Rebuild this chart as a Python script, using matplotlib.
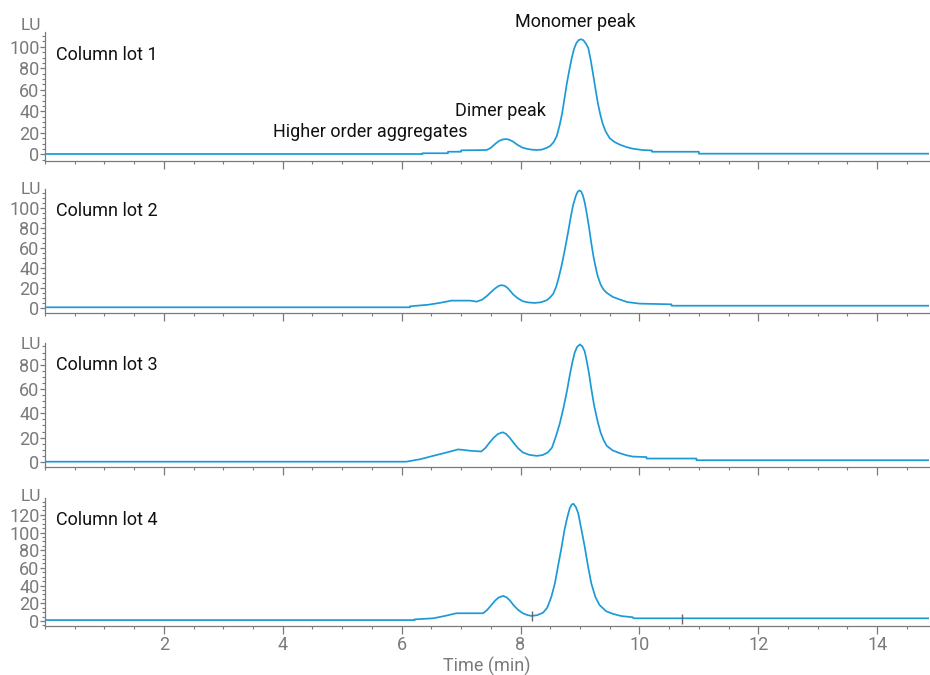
import matplotlib
matplotlib.use("Agg")
from matplotlib import pyplot as plt
from matplotlib.ticker import MultipleLocator

plt.rcParams['font.family'] = ['Roboto', 'DejaVu Sans']

# chromatogram traces (time in min, signal in LU)
t1 = [0.0, 6.35, 6.35, 6.78, 6.78, 7.0, 7.0, 7.43, 7.5, 7.57, 7.64, 7.7, 7.75, 7.8, 7.87,
      7.95, 8.03, 8.1, 8.18, 8.27, 8.36, 8.44, 8.5, 8.56, 8.61, 8.66, 8.7, 8.74, 8.78, 8.82,
      8.86, 8.9, 8.94, 8.98, 9.02, 9.06, 9.1, 9.14, 9.18, 9.22, 9.26, 9.3, 9.34, 9.38, 9.43,
      9.5, 9.58, 9.67, 9.78, 9.89, 10.05, 10.21, 10.21, 11.0, 11.0, 14.88]
y1 = [0.3, 0.3, 1.0, 1.0, 2.4, 2.4, 3.7, 4.0, 6.0, 9.5, 12.5, 13.8, 14.2, 13.8, 12.0,
      8.8, 6.3, 5.2, 4.4, 4.0, 4.4, 6.0, 7.8, 11.5, 17.0, 27.5, 38.0, 52.0, 66.0, 78.0,
      89.0, 98.0, 103.5, 106.3, 107.0, 106.0, 103.0, 98.8, 88.0, 75.0, 61.0, 48.0, 37.5, 29.0, 21.5,
      15.0, 11.5, 9.0, 6.8, 5.2, 4.0, 3.6, 2.4, 2.4, 0.6, 0.6]

t2 = [0.0, 6.14, 6.14, 6.45, 6.64, 6.84, 7.15, 7.26, 7.35, 7.43, 7.5, 7.57, 7.63, 7.68, 7.73,
      7.78, 7.83, 7.88, 7.95, 8.04, 8.14, 8.24, 8.34, 8.44, 8.5, 8.55, 8.6, 8.64, 8.69, 8.74,
      8.8, 8.85, 8.89, 8.93, 8.96, 8.99, 9.02, 9.05, 9.08, 9.11, 9.15, 9.19, 9.23, 9.27, 9.3,
      9.35, 9.4, 9.45, 9.55, 9.67, 9.8, 10.0, 10.54, 10.54, 14.88]
y2 = [1.0, 1.0, 2.0, 3.6, 5.4, 7.7, 7.7, 6.7, 8.5, 12.1, 16.0, 19.8, 22.3, 23.2, 22.6,
      20.5, 17.2, 13.7, 10.2, 7.0, 5.8, 5.4, 6.0, 8.0, 11.0, 14.5, 21.5, 30.0, 42.4, 57.0,
      76.0, 93.0, 104.5, 112.5, 116.5, 118.0, 117.0, 113.0, 106.0, 96.5, 82.0, 65.7, 51.0, 39.5, 32.0,
      23.5, 18.5, 15.5, 11.5, 8.8, 6.2, 4.7, 4.0, 2.6, 2.6]

t3 = [0.0, 6.08, 6.31, 6.53, 6.76, 6.95, 7.05, 7.15, 7.34, 7.41, 7.48, 7.55, 7.62, 7.7, 7.76,
      7.82, 7.88, 7.96, 8.04, 8.15, 8.27, 8.37, 8.46, 8.53, 8.6, 8.66, 8.72, 8.78, 8.83, 8.87,
      8.91, 8.95, 9.0, 9.04, 9.08, 9.11, 9.15, 9.19, 9.24, 9.3, 9.35, 9.4, 9.45, 9.55, 9.67,
      9.78, 9.89, 10.12, 10.12, 10.96, 10.96, 14.88]
y3 = [0.2, 0.2, 2.2, 5.0, 7.8, 10.3, 9.8, 9.2, 8.6, 11.5, 16.0, 20.0, 23.0, 24.4, 23.0,
      19.8, 16.0, 11.2, 7.8, 5.8, 5.0, 5.6, 7.8, 11.8, 21.7, 31.5, 43.9, 58.0, 71.7, 81.5,
      89.7, 94.5, 96.7, 95.0, 91.0, 84.0, 73.5, 60.5, 46.0, 32.8, 23.8, 17.8, 13.3, 9.5, 7.2,
      5.5, 4.4, 4.0, 2.8, 2.8, 1.4, 1.4]

t4 = [0.0, 6.22, 6.22, 6.53, 6.73, 6.92, 7.37, 7.44, 7.51, 7.57, 7.63, 7.71, 7.77, 7.83, 7.88,
      7.96, 8.04, 8.11, 8.18, 8.28, 8.38, 8.45, 8.52, 8.58, 8.63, 8.69, 8.74, 8.79, 8.83, 8.86,
      8.89, 8.93, 8.97, 9.02, 9.08, 9.13, 9.19, 9.26, 9.33, 9.44, 9.56, 9.7, 9.89, 9.9, 14.88]
y4 = [1.0, 1.0, 1.8, 3.0, 5.7, 8.7, 8.7, 12.5, 18.0, 22.8, 26.5, 28.3, 26.5, 22.5, 18.0,
      12.5, 8.7, 6.8, 5.7, 6.5, 9.4, 15.0, 27.5, 43.0, 61.5, 83.0, 103.0, 118.0, 127.7, 131.5,
      132.5, 129.0, 122.0, 105.0, 84.0, 64.0, 42.7, 27.0, 18.0, 11.0, 7.9, 5.5, 4.2, 3.0, 3.0]

# integration event marks on lot 4 trace
mark_t4 = [8.2, 10.72]
mark_y4 = [5.7, 1.8]

traces = [(t1, y1), (t2, y2), (t3, y3), (t4, y4)]
panel_names = ["Column lot 1", "Column lot 2", "Column lot 3", "Column lot 4"]
y_ranges = [(-6.2, 113.7), (-4.7, 119.0), (-4.2, 98.0), (-5.7, 139.3)]
y_top_tick = [100, 100, 80, 120]
lu_pos = [120, 119, 97, 140.8]

# axes boxes in figure fractions (left, bottom, width, height)
boxes = [
    [0.0484, 0.7615, 0.951, 0.191],
    [0.0484, 0.5363, 0.951, 0.183],
    [0.0484, 0.3081, 0.951, 0.184],
    [0.0484, 0.0726, 0.951, 0.190],
]

LINE = "#1c9ad6"
GREY = "#7a7a7a"

fig = plt.figure(figsize=(9.3, 6.75), dpi=100)
axes = []
for i, (t, y) in enumerate(traces):
    ax = fig.add_axes(boxes[i])
    ax.plot(t, y, color=LINE, lw=1.25)
    ax.set_xlim(0, 14.88)
    ax.set_ylim(*y_ranges[i])
    for s in ["top", "right"]:
        ax.spines[s].set_visible(False)
    for s in ["left", "bottom"]:
        ax.spines[s].set_color(GREY)
        ax.spines[s].set_linewidth(0.9)
    ax.set_xticks([2, 4, 6, 8, 10, 12, 14])
    ax.xaxis.set_minor_locator(MultipleLocator(0.5))
    ax.set_yticks(list(range(0, y_top_tick[i] + 1, 20)))
    ax.yaxis.set_minor_locator(MultipleLocator(5))
    ax.tick_params(axis="both", which="major", colors=GREY, labelsize=13, pad=1)
    ax.tick_params(axis="x", which="major", length=6, width=0.9)
    ax.tick_params(axis="y", which="major", length=3.5, width=0.9, pad=0.5)
    ax.tick_params(axis="both", which="minor", colors=GREY, length=2.5, width=0.8)
    if i < 3:
        ax.tick_params(axis="x", labelbottom=False)
    ax.text(0.0124, 0.825, panel_names[i], transform=ax.transAxes,
            fontsize=13, color="#111111", ha="left", va="center")
    ax.text(-0.004, lu_pos[i], "LU", transform=ax.get_yaxis_transform(),
            fontsize=12.5, color=GREY, ha="right", va="center", clip_on=False)
    axes.append(ax)

axes[3].plot(mark_t4, mark_y4, ls="none", marker="|", ms=7, mew=1.0, color="#666666")
axes[-1].set_xlabel("Time (min)", fontsize=13, color=GREY, labelpad=2)

ax1 = axes[0]
ax1.text(5.47, 20.7, "Higher order aggregates", fontsize=13, color="#111111",
         ha="center", va="center", clip_on=False)
ax1.text(7.67, 40.2, "Dimer peak", fontsize=13, color="#111111",
         ha="center", va="center", clip_on=False)
ax1.text(8.93, 123, "Monomer peak", fontsize=13, color="#111111",
         ha="center", va="center", clip_on=False)

fig.savefig("out.png", dpi=100)
